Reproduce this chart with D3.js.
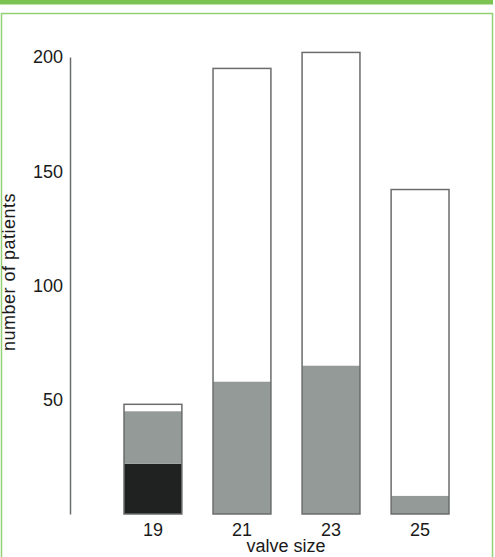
<!DOCTYPE html>
<html>
<head>
<meta charset="utf-8">
<script src="https://cdn.jsdelivr.net/npm/d3@7"></script>
<style>
  body { margin: 0; background: #fff; }
  svg text { font-family: "Liberation Sans", Arial, sans-serif; fill: #1a1a1a; }
</style>
</head>
<body>
<svg width="495" height="557"></svg>
<script>
// valve sizes on the x axis
const valveSizes = ["19", "21", "23", "25"];
// patients per segment, stacked bottom to top
const darkSeg = [22, 0, 0, 0];
const greySeg = [23, 58, 65, 8];
const whiteSeg = [3, 137, 137, 134];
const yTicks = [50, 100, 150, 200];

const svg = d3.select("svg");

// green frame
svg.append("rect")
    .attr("x", 0).attr("y", 0)
    .attr("width", 493).attr("height", 4.5)
    .attr("fill", "#7cc352");
svg.append("rect")
    .attr("x", 1.5).attr("y", 13.5)
    .attr("width", 491).attr("height", 560)
    .attr("fill", "none")
    .attr("stroke", "#93d174")
    .attr("stroke-width", 1.5);

const table = valveSizes.map((s, i) => ({
    size: s, dark: darkSeg[i], grey: greySeg[i], white: whiteSeg[i]
}));
const keys = ["dark", "grey", "white"];
const colors = { dark: "#1f2220", grey: "#949a97", white: "#ffffff" };

const series = d3.stack().keys(keys)(table);

const x = d3.scaleBand()
    .domain(valveSizes)
    .range([124, 449])
    .paddingInner(0.35)
    .paddingOuter(0);

const y = d3.scaleLinear()
    .domain([0, 200])
    .range([514, 57]);

// bars
svg.append("g")
    .selectAll("g")
    .data(series)
    .join("g")
    .attr("fill", d => colors[d.key])
    .selectAll("rect")
    .data(d => d)
    .join("rect")
    .attr("x", d => x(d.data.size))
    .attr("y", d => y(d[1]))
    .attr("width", x.bandwidth())
    .attr("height", d => y(d[0]) - y(d[1]));

// outline round each whole bar
svg.append("g")
    .selectAll("rect")
    .data(table)
    .join("rect")
    .attr("x", d => x(d.size))
    .attr("y", d => y(d.dark + d.grey + d.white))
    .attr("width", x.bandwidth())
    .attr("height", d => y(0) - y(d.dark + d.grey + d.white))
    .attr("fill", "none")
    .attr("stroke", "#6a6d6b")
    .attr("stroke-width", 1.5);

// y axis
const yAxis = svg.append("g")
    .attr("transform", "translate(70,0)")
    .call(d3.axisLeft(y).tickValues(yTicks).tickSize(0).tickPadding(7).tickFormat(d3.format("d")));
yAxis.select(".domain").attr("stroke", "#6a6d6b").attr("stroke-width", 1.5);
yAxis.selectAll("text").style("font-size", "18px").attr("fill", "#1a1a1a");

// x axis
const xAxis = svg.append("g")
    .attr("transform", "translate(0,514)")
    .call(d3.axisBottom(x).tickSize(0).tickPadding(9));
xAxis.select(".domain").remove();
xAxis.selectAll("text").style("font-size", "18px").attr("fill", "#1a1a1a");

// axis titles
svg.append("text")
    .attr("x", 286).attr("y", 552)
    .attr("text-anchor", "middle")
    .style("font-size", "18px")
    .text("valve size");

svg.append("text")
    .attr("transform", "translate(15,272)rotate(-90)")
    .attr("text-anchor", "middle")
    .style("font-size", "18px")
    .style("letter-spacing", "0.5px")
    .text("number of patients");
</script>
</body>
</html>
